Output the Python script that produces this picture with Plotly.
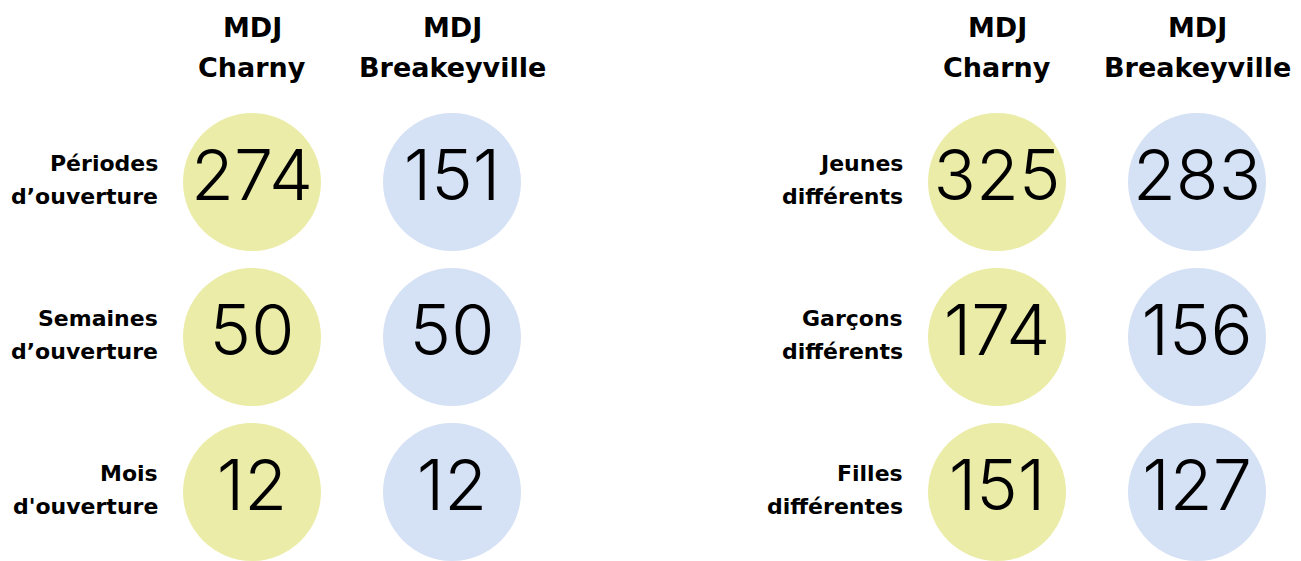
import plotly.graph_objects as go

# ---- data ----
columns = ["MDJ<br>Charny", "MDJ<br>Breakeyville"]
left_labels = ["Périodes<br>d’ouverture", "Semaines<br>d’ouverture", "Mois<br>d'ouverture"]
right_labels = ["Jeunes<br>différents", "Garçons<br>différents", "Filles<br>différentes"]
left_charny = [274, 50, 12]
left_breakeyville = [151, 50, 12]
right_charny = [325, 174, 151]
right_breakeyville = [283, 156, 127]

# ---- style ----
YELLOW = "#EBECA7"
BLUE = "#D5E1F4"
NUM_FONT = "Inter"
TXT_FONT = "DejaVu Sans"
PAGE_MARGIN = 8          # default body margin of the html page
W, H = 1301 - PAGE_MARGIN, 561 - PAGE_MARGIN
PX_X = 200.0   # px per x unit
PX_Y = 155.0   # px per y unit
X0_PX = 252.0 - PAGE_MARGIN
Y0_PX = 182.0 - PAGE_MARGIN
panel_offset = 3.725  # x offset of right panel (in units)

fig = go.Figure()

rows = list(range(len(left_labels)))

def add_column(xpos, values, color):
    fig.add_trace(go.Scatter(
        x=[xpos] * len(values), y=rows,
        mode="markers+text",
        marker=dict(size=138, color=color, line=dict(width=0)),
        text=[str(v) for v in values],
        textposition="middle center",
        textfont=dict(family=NUM_FONT, size=70, color="#000000", weight=300),
        hoverinfo="skip", showlegend=False,
        cliponaxis=False,
    ))

add_column(0, left_charny, YELLOW)
add_column(1, left_breakeyville, BLUE)
add_column(panel_offset + 0, right_charny, YELLOW)
add_column(panel_offset + 1, right_breakeyville, BLUE)

annotations = []
# column headers
for off in (0, panel_offset):
    for ci, col in enumerate(columns):
        lines = col.split("<br>")
        for li, line in enumerate(lines):
            annotations.append(dict(
                x=off + ci, y=-0.87, xref="x", yref="y",
                text=line, showarrow=False,
                xanchor="center", yanchor="middle",
                yshift=20 - li * 40,
                font=dict(family=TXT_FONT, size=27, color="#000000", weight=700),
            ))

# row labels
for off, labels in ((0, left_labels), (panel_offset, right_labels)):
    for ri, lab in enumerate(labels):
        lines = lab.split("<br>")
        for li, line in enumerate(lines):
            annotations.append(dict(
                x=off - 0.46, y=ri, xref="x", yref="y",
                text=line, showarrow=False,
                xanchor="right", yanchor="middle",
                yshift=19 - li * 33,
                font=dict(family=TXT_FONT, size=22, color="#000000", weight=700),
            ))

fig.update_layout(
    width=W, height=H,
    margin=dict(l=0, r=0, t=0, b=0),
    paper_bgcolor="white", plot_bgcolor="white",
    xaxis=dict(range=[-X0_PX / PX_X, (W - X0_PX) / PX_X], visible=False, fixedrange=True),
    yaxis=dict(range=[(H - Y0_PX) / PX_Y, -Y0_PX / PX_Y], visible=False, fixedrange=True),
    annotations=annotations,
    showlegend=False,
)

fig.write_html("out.html", config={"displayModeBar": False})
